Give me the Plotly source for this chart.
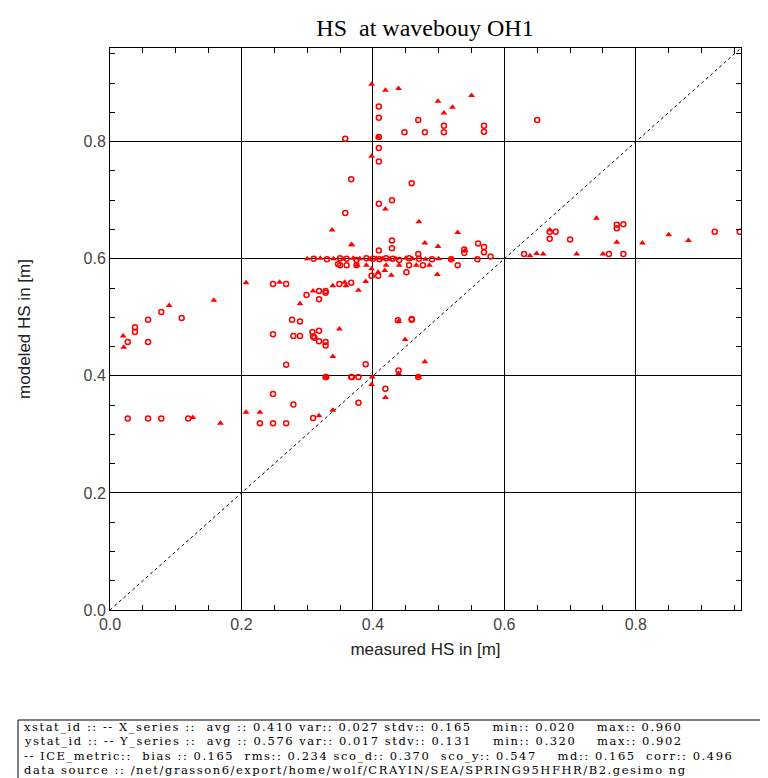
import plotly.graph_objects as go

# ---- data (measured HS, modeled HS) ----
x_filled = [0.207, 0.258, 0.309, 0.339, 0.289, 0.359, 0.020, 0.021, 0.090, 0.158, 0.126,
            0.168, 0.228, 0.207, 0.318, 0.339, 0.328, 0.349, 0.339, 0.399, 0.398, 0.439,
            0.449, 0.479, 0.439, 0.469, 0.419, 0.398, 0.419, 0.439, 0.499, 0.550, 0.521,
            0.508, 0.408, 0.419, 0.367, 0.398, 0.338, 0.470, 0.529, 0.368, 0.479, 0.499,
            0.540, 0.639, 0.669, 0.659, 0.740, 0.771, 0.750, 0.810, 0.850, 0.880, 0.710,
            0.300, 0.320, 0.340, 0.355, 0.370, 0.380, 0.395, 0.405, 0.415, 0.425, 0.435,
            0.450, 0.460, 0.480, 0.500, 0.520, 0.418, 0.428, 0.498, 0.389, 0.357, 0.378,
            0.398, 0.408, 0.376, 0.390, 0.420, 0.440, 0.466, 0.486, 0.649]
y_filled = [0.559, 0.560, 0.545, 0.554, 0.523, 0.554, 0.468, 0.449, 0.520, 0.529, 0.329,
            0.319, 0.338, 0.338, 0.332, 0.341, 0.398, 0.480, 0.433, 0.398, 0.385, 0.493,
            0.462, 0.424, 0.404, 0.398, 0.363, 0.898, 0.888, 0.891, 0.869, 0.879, 0.859,
            0.849, 0.808, 0.685, 0.624, 0.775, 0.649, 0.663, 0.645, 0.624, 0.627, 0.621,
            0.614, 0.605, 0.649, 0.608, 0.669, 0.628, 0.608, 0.627, 0.641, 0.631, 0.608,
            0.600, 0.601, 0.600, 0.599, 0.601, 0.600, 0.599, 0.601, 0.600, 0.599, 0.600,
            0.601, 0.600, 0.599, 0.600, 0.599, 0.580, 0.572, 0.573, 0.561, 0.560, 0.546,
            0.583, 0.577, 0.589, 0.589, 0.589, 0.589, 0.589, 0.589, 0.609]

x_open = [0.248, 0.268, 0.299, 0.318, 0.328, 0.328, 0.318, 0.367, 0.349, 0.277, 0.289,
          0.308, 0.318, 0.309, 0.248, 0.279, 0.289, 0.318, 0.328, 0.328, 0.268, 0.027,
          0.038, 0.038, 0.058, 0.058, 0.078, 0.109, 0.027, 0.058, 0.078, 0.119, 0.329,
          0.367, 0.248, 0.279, 0.228, 0.248, 0.268, 0.309, 0.311, 0.389, 0.328, 0.368,
          0.378, 0.459, 0.439, 0.469, 0.419, 0.378, 0.409, 0.409, 0.469, 0.508, 0.508,
          0.448, 0.479, 0.569, 0.569, 0.409, 0.358, 0.650, 0.409, 0.409, 0.367, 0.459,
          0.358, 0.409, 0.429, 0.429, 0.429, 0.560, 0.569, 0.569, 0.579, 0.409, 0.469,
          0.669, 0.678, 0.669, 0.630, 0.700, 0.771, 0.771, 0.781, 0.759, 0.781, 0.920,
          0.958, 0.539, 0.539, 0.559, 0.519, 0.310, 0.330, 0.350, 0.360, 0.375, 0.390,
          0.400, 0.410, 0.420, 0.430, 0.440, 0.455, 0.470, 0.490, 0.398, 0.408, 0.451,
          0.347, 0.350, 0.360, 0.375, 0.455, 0.476, 0.438, 0.459, 0.529]
y_open = [0.557, 0.557, 0.538, 0.545, 0.545, 0.542, 0.531, 0.559, 0.557, 0.496, 0.493,
          0.475, 0.477, 0.467, 0.471, 0.468, 0.468, 0.459, 0.458, 0.452, 0.419, 0.458,
          0.483, 0.475, 0.496, 0.458, 0.509, 0.499, 0.327, 0.327, 0.327, 0.327, 0.398,
          0.398, 0.369, 0.351, 0.319, 0.319, 0.319, 0.328, 0.465, 0.420, 0.398, 0.398,
          0.398, 0.496, 0.409, 0.398, 0.378, 0.354, 0.860, 0.841, 0.837, 0.827, 0.816,
          0.816, 0.816, 0.827, 0.817, 0.808, 0.805, 0.837, 0.789, 0.766, 0.736, 0.729,
          0.678, 0.694, 0.700, 0.631, 0.618, 0.626, 0.620, 0.611, 0.604, 0.614, 0.608,
          0.646, 0.646, 0.634, 0.608, 0.633, 0.658, 0.652, 0.659, 0.608, 0.608, 0.646,
          0.646, 0.616, 0.610, 0.599, 0.599, 0.600, 0.599, 0.601, 0.600, 0.598, 0.601,
          0.600, 0.599, 0.601, 0.600, 0.598, 0.601, 0.600, 0.599, 0.571, 0.571, 0.577,
          0.591, 0.589, 0.589, 0.589, 0.589, 0.589, 0.495, 0.497, 0.589]

diag = [0.0, 0.96]
tick_vals = [0.0, 0.2, 0.4, 0.6, 0.8]
tick_text = ["0.0", "0.2", "0.4", "0.6", "0.8"]

stats_lines = [
    "xstat_id :: -- X_series ::  avg :: 0.410 var:: 0.027 stdv:: 0.165    min:: 0.020    max:: 0.960",
    "ystat_id :: -- Y_series ::  avg :: 0.576 var:: 0.017 stdv:: 0.131    min:: 0.320    max:: 0.902",
    "-- ICE_metric::  bias :: 0.165  rms:: 0.234 sco_d:: 0.370  sco_y:: 0.547    md:: 0.165  corr:: 0.496",
    "data source :: /net/grasson6/export/home/wolf/CRAYIN/SEA/SPRING95HFHR/B2.gesimo ng",
]

RED = "#ff0000"
fig = go.Figure()
fig.add_trace(go.Scatter(x=diag, y=diag, mode="lines",
                         line=dict(color="black", width=1, dash="dot"),
                         hoverinfo="skip", showlegend=False))
fig.add_trace(go.Scatter(x=x_open, y=y_open, mode="markers",
                         marker=dict(symbol="circle-open", size=5, color=RED,
                                     line=dict(color=RED, width=1.5)),
                         showlegend=False))
fig.add_trace(go.Scatter(x=x_filled, y=y_filled, mode="markers",
                         marker=dict(symbol="triangle-up", size=6, color=RED,
                                     line=dict(width=0)),
                         showlegend=False))

axis_common = dict(
    range=[0, 0.96], tickvals=tick_vals, ticktext=tick_text,
    showline=True, linecolor="black", linewidth=1, mirror="ticks",
    ticks="inside", ticklen=8, tickcolor="black",
    showgrid=True, gridcolor="black", gridwidth=1.2,
    zeroline=False,
    minor=dict(dtick=0.05, tick0=0, ticks="inside", ticklen=5, tickcolor="black", showgrid=False),
    tickfont=dict(family="Liberation Sans", size=16, color="#444444"),
)

fig.update_xaxes(**axis_common,
                 title=dict(text="measured HS in [m]", standoff=10,
                            font=dict(family="Liberation Sans", size=17, color="#222222")))
fig.update_yaxes(**axis_common,
                 title=dict(text="modeled HS in [m]", standoff=48,
                            font=dict(family="Liberation Sans", size=17, color="#222222")))

L, R, T, B = 102, 35, 40, 176
W, H = 768, 778
pw, ph = W - L - R, H - T - B

def px2paper_x(px):
    return (px - L) / pw

def py2paper_y(py):
    return (H - B - py) / ph

fig.add_shape(type="rect", xref="paper", yref="paper",
              x0=px2paper_x(10), x1=px2paper_x(775),
              y0=py2paper_y(790), y1=py2paper_y(712),
              line=dict(color="black", width=1), fillcolor="white")

for i, line in enumerate(stats_lines):
    fig.add_annotation(text='<span style="letter-spacing:1.55px">' + line + '</span>',
                       xref="paper", yref="paper",
                       x=px2paper_x(14), y=py2paper_y(718.5 + i * 14.6),
                       xanchor="left", yanchor="middle", showarrow=False,
                       font=dict(family="DejaVu Serif", size=11.5, color="black"))

fig.update_layout(
    width=W, height=H,
    margin=dict(l=L, r=R, t=T, b=B),
    paper_bgcolor="white", plot_bgcolor="white",
    title=dict(text="HS  at wavebouy OH1", x=px2paper_x(417), xref="paper",
               xanchor="center", y=1 - 20 / H, yref="container", yanchor="middle",
               font=dict(family="Liberation Serif", size=24, color="black")),
)

fig.write_html("out.html")
